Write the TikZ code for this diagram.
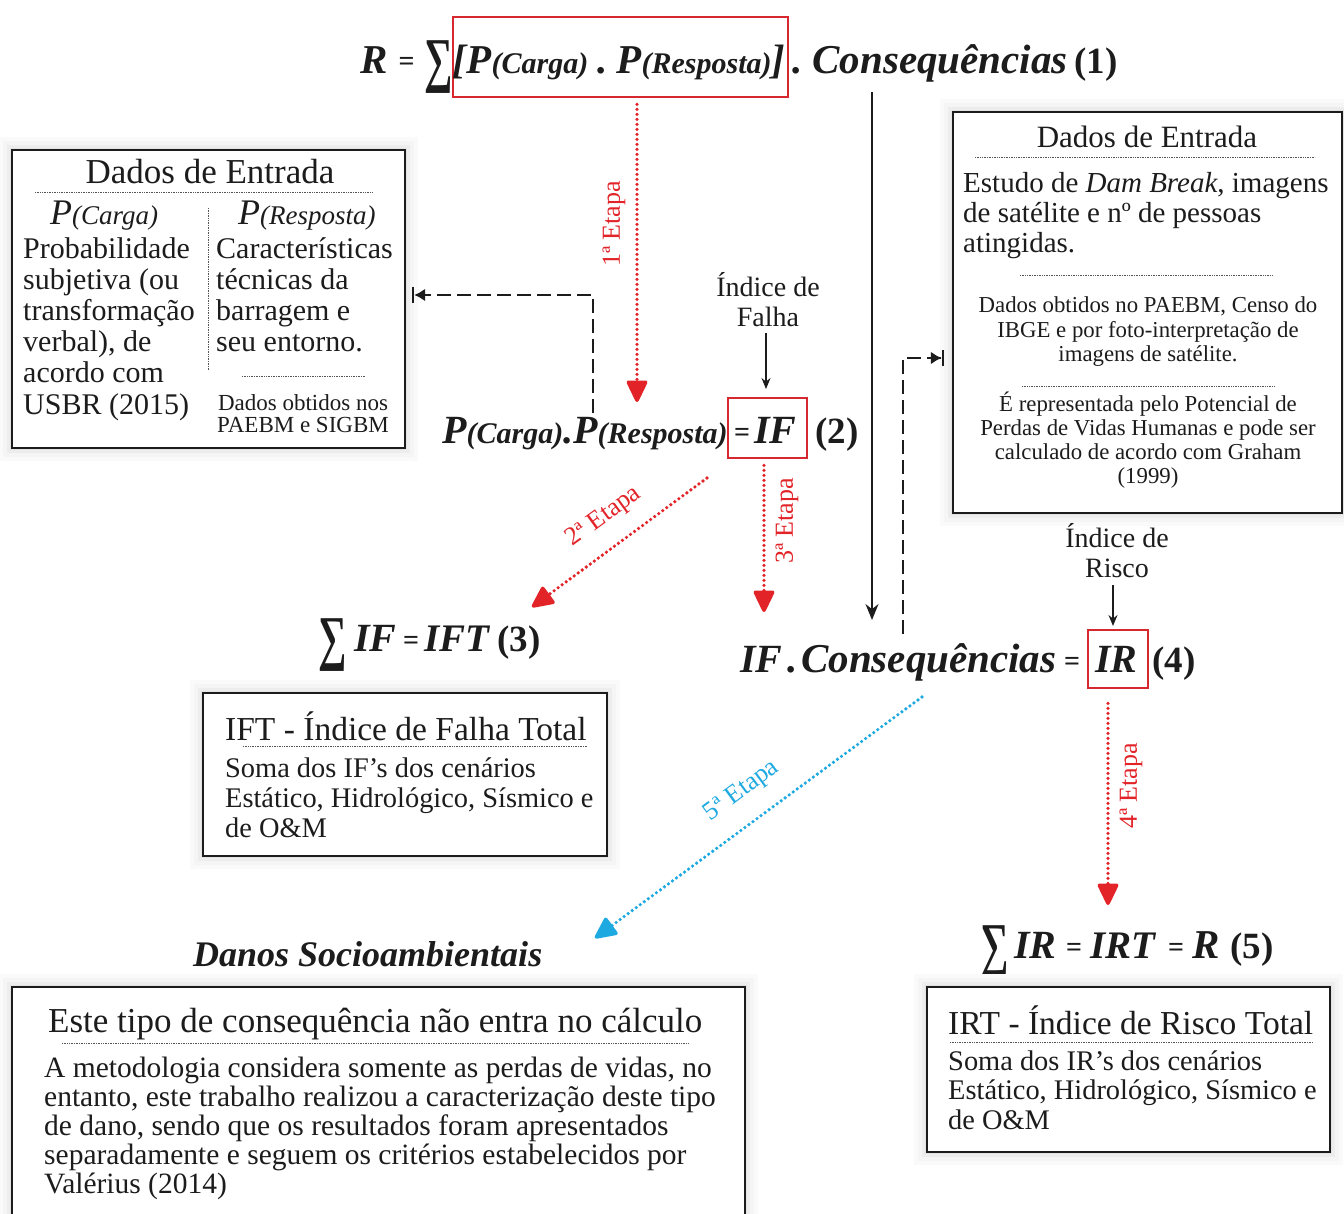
\documentclass[tikz,border=0pt]{standalone}
\usepackage{fontspec}
\setmainfont{Liberation Serif}
\usetikzlibrary{arrows.meta,fit,calc}
\definecolor{ink}{RGB}{28,28,28}
\definecolor{rd}{RGB}{226,35,40}
\definecolor{redframe}{RGB}{214,40,46}
\definecolor{cy}{RGB}{30,170,225}
\newcommand\fsz[1]{\fontsize{#1}{#1}\selectfont}
\newcommand\bif[1]{\fsz{#1}\bfseries\itshape}
\newcommand\bff[1]{\fsz{#1}\bfseries}
\newcommand\bigsum{\raisebox{-7pt}{\scalebox{1.05}[1.6]{\fsz{38}\bfseries ∑}}}
\begin{document}
\begin{tikzpicture}[x=1pt,y=-1pt,
 txt/.style={anchor=base west,inner sep=0pt,text=ink},
 ctxt/.style={anchor=base,inner sep=0pt,text=ink},
 box/.style={draw=ink,line width=1.6pt,fill=white,inner sep=0pt,
   preaction={draw=black!2,line width=26pt},
   preaction={draw=black!4,line width=18pt},
   preaction={draw=black!7,line width=10pt},
   preaction={draw=black!11,line width=4pt}},
 redbox/.style={draw=redframe,line width=2.8pt,inner sep=0pt},
 sepline/.style={draw=ink!75,line width=0.7pt,dash pattern=on 0.8pt off 0.9pt},
 reddot/.style={draw=rd,line width=3.6pt,line cap=round,dash pattern=on 0pt off 5pt,
   -{Triangle[length=24pt,width=22pt,round]}},
 cydot/.style={draw=cy,line width=3.6pt,line cap=round,dash pattern=on 0pt off 5pt,
   -{Triangle[length=24pt,width=22pt,round]}},
 blkarr/.style={draw=ink,line width=1.3pt,-{Stealth[length=11pt,width=9pt]}},
 longarr/.style={draw=ink,line width=1.6pt,-{Stealth[length=16pt,width=13pt]}},
 dasharr/.style={draw=ink,line width=2.8pt,dash pattern=on 14pt off 6pt,
   -{Latex[length=11pt,width=13pt]Bar[width=16pt,line width=2.4pt]}},
 etapa/.style={inner sep=0pt,text=rd,font=\fsz{26}},
]
\fill[white] (0,0) rectangle (1344,1214);
\useasboundingbox (0,0) rectangle (1344,1214);

% ---------- equation 1
\node[redbox,fit={(453,17)(788,97)}] (rb1) {};
\node[txt] (eq1) at (360,74) {{\bif{41}R}\hspace{11pt}\raisebox{3pt}{\bff{28}=}\hspace{10pt}\bigsum{\bif{41}[P}{\bif{30}(Carga)}\hspace{9pt}{\bif{41}.}\hspace{9pt}{\bif{41}P}{\bif{30}(Resposta)}{\bif{41}]}\hspace{7pt}{\bif{41}.}\hspace{10pt}{\bif{41}Consequências}\hspace{7pt}{\bff{37}(1)}};

% ---------- left box
\node[box,fit={(12,150)(405,448)}] (lbox) {};
\node[ctxt] (lh) at (210,184) {\fsz{35}Dados de Entrada};
\draw[sepline] (35,192) -- (373,192);
\draw[sepline] (208,208) -- (208,370);
\node[txt] (lpc) at (50,225) {\fsz{36}\itshape P{\fsz{27}(Carga)}};
\node[txt] (lpr) at (238,225) {\fsz{36}\itshape P{\fsz{27}(Resposta)}};
\foreach \t [count=\i from 0] in {Probabilidade,{subjetiva (ou},transformação,{verbal), de},acordo com,USBR (2015)}
  \node[txt] (lc\i) at (23,{259+31*\i}) {\fsz{30}\t};
\foreach \t [count=\i from 0] in {Características,técnicas da,barragem e,seu entorno.}
  \node[txt] (rc\i) at (216,{259+31*\i}) {\fsz{30}\t};
\draw[sepline] (242,376) -- (365,376);
\node[ctxt] (ls1) at (303,410) {\fsz{23}Dados obtidos nos};
\node[ctxt] (ls2) at (303,432) {\fsz{23}PAEBM e SIGBM};

% ---------- right box
\node[box,fit={(953,112)(1342,513)}] (rbx) {};
\node[ctxt] (rh) at (1147,148) {\fsz{31}Dados de Entrada};
\draw[sepline] (975,157) -- (1315,157);
\node[txt] (rt0) at (963,193) {\fsz{29}Estudo de \textit{Dam Break}, imagens};
\node[txt] (rt1) at (963,223) {\fsz{29}de satélite e nº de pessoas};
\node[txt] (rt2) at (963,253) {\fsz{29}atingidas.};
\draw[sepline] (1020,275) -- (1273,275);
\foreach \t [count=\i from 0] in {{Dados obtidos no PAEBM, Censo do},IBGE e por foto-interpretação de,imagens de satélite.}
  \node[ctxt] (rs\i) at (1148,{313+24.5*\i}) {\fsz{22.8}\t};
\draw[sepline] (1022,386) -- (1275,386);
\foreach \t [count=\i from 0] in {É representada pelo Potencial de,Perdas de Vidas Humanas e pode ser,calculado de acordo com Graham,(1999)}
  \node[ctxt] (rg\i) at (1148,{412+23.7*\i}) {\fsz{22.8}\t};

% ---------- equation 2
\node[redbox,fit={(728,398)(807,458)}] (rb2) {};
\node[txt] (eq2a) at (442,443) {{\bif{40}P}{\bif{30}(Carga)}{\bif{40}.P}{\bif{30}(Resposta)}};
\node[txt] (eq2b) at (734,443) {\raisebox{2pt}{\bff{28}=}};
\node[txt] (eq2c) at (754,443) {\bif{40}IF};
\node[txt] (eq2d) at (815,443) {\bff{37}(2)};
\node[ctxt] (if1) at (768,297) {\fsz{28}Índice de};
\node[ctxt] (if2) at (768,327) {\fsz{28}Falha};
\coordinate (ifs) at (766,333);
\coordinate (ife) at (766,389);
\draw[blkarr] (ifs) -- (ife);

% ---------- equation 3 and IFT box
\node[txt] (eq3a) at (318,651) {\bigsum};
\node[txt] (eq3b) at (354,651) {\bif{40}IF};
\node[txt] (eq3c) at (403,651) {\raisebox{2pt}{\bff{28}=}};
\node[txt] (eq3d) at (424,651) {\bif{39}IFT};
\node[txt] (eq3e) at (497,651) {\bff{37}(3)};
\node[box,fit={(203,693)(607,856)}] (iftbox) {};
\node[txt] (ifth) at (225,740) {\fsz{33.5}IFT - Índice de Falha Total};
\draw[sepline] (243,746) -- (588,746);
\foreach \t [count=\i from 0] in {Soma dos IF’s dos cenários,{Estático, Hidrológico, Sísmico e},de O\&M}
  \node[txt] (ift\i) at (225,{777+30*\i}) {\fsz{28.4}\t};

% ---------- equation 4
\node[redbox,fit={(1088,630)(1148,688)}] (rb4) {};
\node[txt] (eq4a) at (740,672) {\bif{40}IF};
\node[txt] (eq4b) at (787,672) {\bif{41}.};
\node[txt] (eq4c) at (801,672) {\bif{41}Consequências};
\node[txt] (eq4d) at (1064,672) {\raisebox{2pt}{\bff{28}=}};
\node[txt] (eq4e) at (1095,672) {\bif{40}IR};
\node[txt] (eq4f) at (1152,672) {\bff{37}(4)};
\node[ctxt] (ir1) at (1117,547) {\fsz{28}Índice de};
\node[ctxt] (ir2) at (1117,577) {\fsz{28}Risco};
\coordinate (irs) at (1113,585);
\coordinate (ire) at (1113,626);
\draw[blkarr] (irs) -- (ire);

% ---------- equation 5 and IRT box
\node[txt] (eq5a) at (980,958) {\bigsum};
\node[txt] (eq5b) at (1014,958) {\bif{40}IR};
\node[txt] (eq5c) at (1066,958) {\raisebox{2pt}{\bff{28}=}};
\node[txt] (eq5d) at (1090,958) {\bif{39}IRT};
\node[txt] (eq5e) at (1168,958) {\raisebox{2pt}{\bff{28}=}};
\node[txt] (eq5f) at (1192,958) {\bif{41}R};
\node[txt] (eq5g) at (1230,958) {\bff{37}(5)};
\node[box,fit={(927,987)(1330,1152)}] (irtbox) {};
\node[txt] (irth) at (948,1034) {\fsz{33.5}IRT - Índice de Risco Total};
\draw[sepline] (950,1042) -- (1313,1042);
\foreach \t [count=\i from 0] in {Soma dos IR’s dos cenários,{Estático, Hidrológico, Sísmico e},de O\&M}
  \node[txt] (irt\i) at (948,{1070+29.5*\i}) {\fsz{28.4}\t};

% ---------- Danos socioambientais
\node[txt] (dsa) at (193,966) {\bif{36}Danos Socioambientais};
\node[box,fit={(12,987)(745,1240)}] (dbox) {};
\node[txt] (dh) at (48,1032) {\fsz{35}Este tipo de consequência não entra no cálculo};
\draw[sepline] (62,1043) -- (688,1043);
\foreach \t [count=\i from 0] in {{A metodologia considera somente as perdas de vidas, no},{entanto, este trabalho realizou a caracterização deste tipo},{de dano, sendo que os resultados foram apresentados},separadamente e seguem os critérios estabelecidos por,Valérius (2014)}
  \node[txt] (d\i) at (44,{1077+29*\i}) {\fsz{29.5}\t};

% ---------- connectors
\coordinate (a1e) at (637,402);
\draw[reddot] (rb1.south -| a1e) ++(0,6) -- (a1e);
\node[etapa,rotate=90] (e1) at (614,224) {1ª Etapa};

\coordinate (a2s) at (707,478);
\coordinate (a2e) at (532,607);
\draw[reddot] (a2s) -- (a2e);
\node[etapa,rotate=36] (e2) at (604,517) {2ª Etapa};

\coordinate (a3e) at (764,612);
\draw[reddot] (rb2.south -| a3e) ++(0,6) -- (a3e);
\node[etapa,rotate=90] (e3) at (787,521) {3ª Etapa};

\coordinate (a4e) at (1108,905);
\draw[reddot] (rb4.south -| a4e) ++(0,14) -- (a4e);
\node[etapa,rotate=90] (e4) at (1131,786) {4ª Etapa};

\coordinate (a5s) at (922,697);
\coordinate (a5e) at (595,938);
\draw[cydot] (a5s) -- (a5e);
\node[etapa,text=cy,rotate=36.4] (e5) at (742,791) {5ª Etapa};

\coordinate (bls) at (872,92);
\coordinate (ble) at (872,620);
\draw[longarr] (bls) -- (ble);

\coordinate (d1s) at (593,413);
\draw[dasharr] (d1s) |- ([xshift=6pt]lbox.east |- 0,295);
\coordinate (d2s) at (903,634);
\draw[dasharr] (d2s) |- ([xshift=-8pt]rbx.west |- 0,358);
\end{tikzpicture}
\end{document}
